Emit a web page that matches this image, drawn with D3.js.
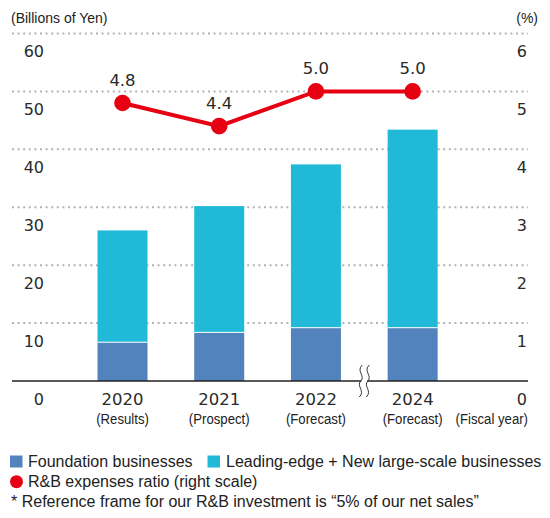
<!DOCTYPE html>
<html>
<head>
<meta charset="utf-8">
<script src="https://cdn.jsdelivr.net/npm/d3@7"></script>
<style>
  html, body { margin: 0; padding: 0; background: #fff; }
  svg { display: block; }
  .num { font-family: "DejaVu Sans", sans-serif; fill: #2a2a2a; }
  .txt { font-family: "Liberation Sans", Arial, sans-serif; fill: #222; }
</style>
</head>
<body>
<script>
// ---- data ----
const categories = ["2020", "2021", "2022", "2024"];
const periodLabels = ["(Results)", "(Prospect)", "(Forecast)", "(Forecast)"];
const foundation = [6.7, 8.4, 9.2, 9.2];
const leadingEdge = [19.3, 21.8, 28.2, 34.2];
const ratio = [4.8, 4.4, 5.0, 5.0];
const ratioLabels = ["4.8", "4.4", "5.0", "5.0"];
const leftTicks = [0, 10, 20, 30, 40, 50, 60];
const rightTicks = [0, 1, 2, 3, 4, 5, 6];
const legendItems = ["Foundation businesses", "Leading-edge + New large-scale businesses", "R&B expenses ratio (right scale)"];
const footnote = "* Reference frame for our R&B investment is \u201c5% of our net sales\u201d";

const W = 550, H = 518;
const colFound = "#5283bc", colLead = "#21b9d8", colRed = "#e60012";

const svg = d3.select("body").append("svg").attr("width", W).attr("height", H);

const x = d3.scaleBand().domain(categories).range([74.15, 461]).paddingInner(0.483).paddingOuter(0.2415);
const y = d3.scaleLinear().domain([0, 60]).range([381, 33.5]);
const y2 = d3.scaleLinear().domain([0, 6]).range([381, 33.5]);
const gridX0 = 12, gridX1 = 528;

// gridlines
svg.append("g").selectAll("line").data(leftTicks.filter(d => d > 0)).join("line")
  .attr("x1", gridX0).attr("x2", gridX1)
  .attr("y1", d => y(d)).attr("y2", d => y(d))
  .attr("stroke", "#b3b3b3").attr("stroke-width", 2).attr("stroke-dasharray", "2,3.6");

// stacked bars
const stackData = categories.map((c, i) => ({ cat: c, foundation: foundation[i], lead: leadingEdge[i] }));
const series = d3.stack().keys(["foundation", "lead"])(stackData);
const colors = [colFound, colLead];
svg.append("g").selectAll("g").data(series).join("g")
  .attr("fill", (d, i) => colors[i])
  .selectAll("rect").data(d => d).join("rect")
  .attr("x", d => x(d.data.cat))
  .attr("width", x.bandwidth())
  .attr("y", d => y(d[1]))
  .attr("height", d => y(d[0]) - y(d[1]));
// white separator between segments
svg.append("g").selectAll("line").data(stackData).join("line")
  .attr("x1", d => x(d.cat)).attr("x2", d => x(d.cat) + x.bandwidth())
  .attr("y1", d => y(d.foundation)).attr("y2", d => y(d.foundation))
  .attr("stroke", "#fff").attr("stroke-width", 1);

// baseline
svg.append("line").attr("x1", gridX0).attr("x2", gridX1).attr("y1", y(0)).attr("y2", y(0))
  .attr("stroke", "#222").attr("stroke-width", 1.3);

// break mark between 2022 and 2024
const bx = (x("2022") + x.bandwidth() + x("2024")) / 2;
const by = y(0);
function wave(cx) {
  return `M${cx + 1.5},${by - 16} C${cx - 5},${by - 10} ${cx + 5},${by - 5} ${cx},${by} C${cx - 5},${by + 5} ${cx + 5},${by + 10} ${cx - 1.5},${by + 16}`;
}
svg.append("rect").attr("x", bx - 3).attr("y", by - 2).attr("width", 6).attr("height", 4).attr("fill", "#fff");
svg.append("g").selectAll("path").data([bx - 3.5, bx + 3.5]).join("path")
  .attr("d", d => wave(d)).attr("fill", "none").attr("stroke", "#333").attr("stroke-width", 1);

// left axis labels
const axL = svg.append("g").attr("transform", `translate(44,0)`)
  .call(d3.axisLeft(y).tickValues(leftTicks).tickSize(0).tickPadding(0).tickFormat(d3.format("d")));
axL.select(".domain").remove();
axL.selectAll("text").attr("class", "num").attr("dy", 23).attr("font-size", 16).attr("fill", "#2a2a2a")
  .style("font-family", "DejaVu Sans");

// right axis labels
const axR = svg.append("g").attr("transform", `translate(527,0)`)
  .call(d3.axisLeft(y2).tickValues(rightTicks).tickSize(0).tickPadding(0).tickFormat(d3.format("d")));
axR.select(".domain").remove();
axR.selectAll("text").attr("class", "num").attr("dy", 23).attr("font-size", 16).attr("fill", "#2a2a2a")
  .style("font-family", "DejaVu Sans");

// axis titles
svg.append("text").attr("class", "txt").attr("x", 11).attr("y", 22.5).attr("font-size", 14).text("(Billions of Yen)");
svg.append("text").attr("class", "txt").attr("x", 538).attr("y", 22.5).attr("font-size", 14).attr("text-anchor", "end").text("(%)");

// x labels
const xg = svg.append("g");
xg.selectAll("text.yr").data(categories).join("text")
  .attr("class", "num yr").attr("x", d => x(d) + x.bandwidth() / 2).attr("y", 405)
  .attr("text-anchor", "middle").attr("font-size", 16.5).text(d => d);
xg.selectAll("text.pl").data(categories).join("text")
  .attr("class", "txt pl").attr("text-anchor", "middle").attr("font-size", 15.5)
  .attr("transform", d => `translate(${x(d) + x.bandwidth() / 2},424) scale(0.85,1)`)
  .text((d, i) => periodLabels[i]);
svg.append("text").attr("class", "txt").attr("text-anchor", "end").attr("font-size", 15.5)
  .attr("transform", `translate(528,424) scale(0.85,1)`).text("(Fiscal year)");

// ratio line
const pts = categories.map((c, i) => [x(c) + x.bandwidth() / 2, y2(ratio[i])]);
svg.append("path").attr("d", d3.line()(pts)).attr("fill", "none").attr("stroke", colRed).attr("stroke-width", 4);
svg.append("g").selectAll("circle").data(pts).join("circle")
  .attr("cx", d => d[0]).attr("cy", d => d[1]).attr("r", 8.3).attr("fill", colRed);
svg.append("g").selectAll("text").data(pts).join("text")
  .attr("class", "num").attr("x", d => d[0]).attr("y", d => d[1] - 17)
  .attr("text-anchor", "middle").attr("font-size", 16.5).text((d, i) => ratioLabels[i]);

// legend
const lg = svg.append("g").attr("class", "txt").attr("font-size", 16);
lg.append("rect").attr("x", 10).attr("y", 455.5).attr("width", 12.5).attr("height", 12).attr("fill", colFound);
lg.append("text").attr("class", "txt").attr("x", 28).attr("y", 467.3).text(legendItems[0]);
lg.append("rect").attr("x", 207.5).attr("y", 455.5).attr("width", 12.5).attr("height", 12).attr("fill", colLead);
lg.append("text").attr("class", "txt").attr("x", 226).attr("y", 467.3).text(legendItems[1]);
lg.append("circle").attr("cx", 16.5).attr("cy", 481.7).attr("r", 6.5).attr("fill", colRed);
lg.append("text").attr("class", "txt").attr("x", 28).attr("y", 487).text(legendItems[2]);
lg.append("text").attr("class", "txt").attr("x", 11).attr("y", 507).text(footnote);
</script>
</body>
</html>
